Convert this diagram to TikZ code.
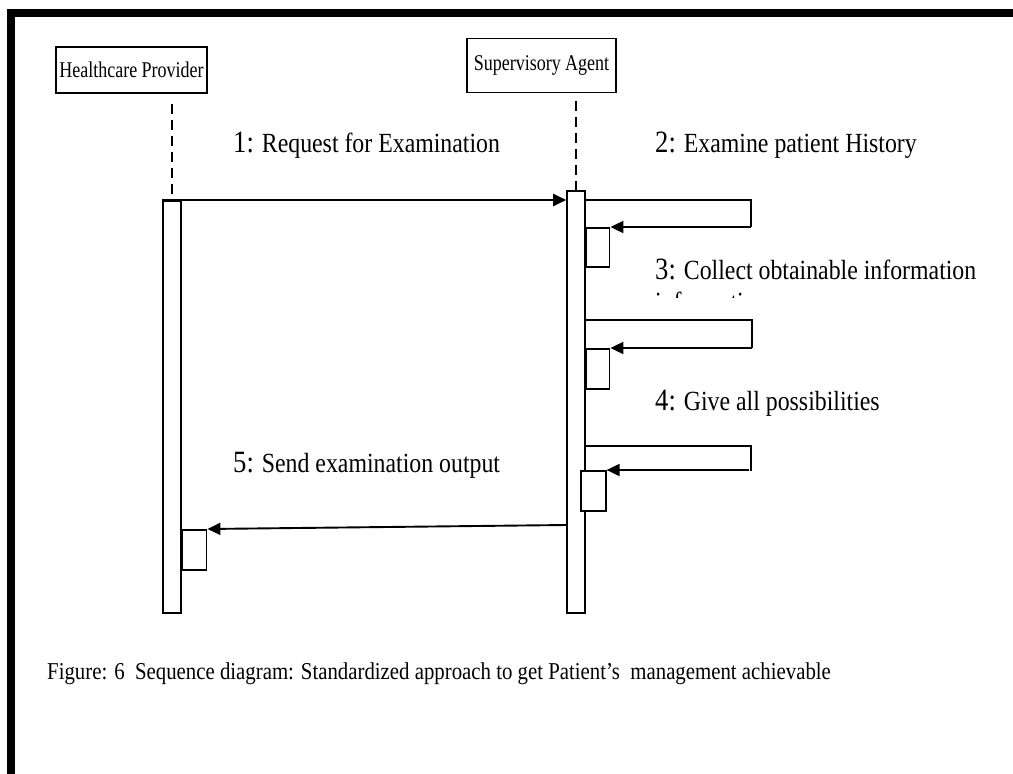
\documentclass[tikz,border=0pt]{standalone}
\usepackage{fontspec}
\setmainfont{Liberation Serif}
\newfontfamily\condserif[FakeStretch=0.86]{Liberation Serif}
\newfontfamily\headserif[FakeStretch=0.80]{Liberation Serif}
\usetikzlibrary{arrows.meta}

\newcommand\msgnum[1]{{\fontsize{31}{33}\selectfont #1}}

\tikzset{
  lifebox/.style={draw, line width=1.5pt, inner sep=0pt,
    font=\headserif\fontsize{22.5}{24}\selectfont},
  actbar/.style={draw, fill=white, line width=1.6pt, inner sep=0pt},
  lifeline/.style={line width=1.6pt, dash pattern=on 10pt off 6pt},
  selfline/.style={line width=1.9pt},
  msg/.style={line width=1.9pt, -{Triangle[length=13pt,width=12pt]}},
  msglabel/.style={anchor=base west, inner sep=0pt,
    font=\condserif\fontsize{27.7}{30}\selectfont},
  caption/.style={anchor=base west, inner sep=0pt,
    font=\condserif\fontsize{24.2}{26}\selectfont}
}

\begin{document}
\begin{tikzpicture}[x=1pt, y=-1pt]
  \useasboundingbox (0,0) rectangle (1013,774);

  % outer frame: heavy top and left rules
  \fill (7,9) rectangle (1013,17);
  \fill (7,9) rectangle (15,774);

  % lifeline heads
  \node[lifebox, minimum width=151pt, minimum height=46pt] (hp) at (131.5,70) {Healthcare Provider};
  \node[lifebox, minimum width=149pt, minimum height=54pt] (sa) at (541.5,65.5) {Supervisory Agent};

  % activation bars
  \node[actbar, minimum width=18pt, minimum height=412pt, anchor=north] (hpbar) at (172,200) {};
  \node[actbar, minimum width=18pt, minimum height=422pt, anchor=north] (sabar) at (576,190) {};

  % dashed lifelines, straight down from below each head
  \draw[lifeline] ([yshift=-10pt]hpbar.north |- hp.south) -- (hpbar.north);
  \draw[lifeline] ([yshift=-8pt]sabar.north |- sa.south) -- (sabar.north);

  % 1: request
  \draw[msg] (hpbar.north west) -- (sabar.west |- hpbar.north);
  \node[msglabel] (l1) at (233,152) {\msgnum{1:} Request for Examination};

  % 2: self message
  \node[actbar, minimum width=23pt, minimum height=39pt, anchor=north west] (b2) at (sabar.east |- 0,227) {};
  \draw[selfline] (sabar.east |- 0,200) -- (751,200) -- (751,227) coordinate (m2);
  \draw[msg] (m2) -- (b2.north east);
  \node[msglabel] (l2) at (655,152) {\msgnum{2:} Examine patient History};

  % 3: self message
  \node[actbar, minimum width=23pt, minimum height=40pt, anchor=north west] (b3) at (sabar.east |- 0,348) {};
  \draw[selfline] (sabar.east |- 0,320) -- (752,320) -- (752,348) coordinate (m3);
  \draw[msg] (m3) -- (b3.north east);
  \node[msglabel] (l3) at (655,279) {\msgnum{3:} Collect obtainable information};
  \begin{scope}
    \clip (640,289) rectangle (800,297);
    \node[msglabel] (l3b) at (655,311) {information};
  \end{scope}

  % 4: self message
  \node[actbar, minimum width=25pt, minimum height=40pt, anchor=north west] (b4) at (580,470) {};
  \draw[selfline] (sabar.east |- 0,446) -- (751,446) -- (751,471) coordinate (m4);
  \draw[msg] ([xshift=-2pt,yshift=1pt]m4) -- (b4.north east);
  \node[msglabel] (l4) at (655,410) {\msgnum{4:} Give all possibilities};

  % 5: reply
  \node[actbar, minimum width=24pt, minimum height=40pt, anchor=north west] (b5) at (hpbar.east |- 0,529) {};
  \draw[msg] (sabar.west |- 0,525) -- (b5.north east);
  \node[msglabel] (l5) at (233,472) {\msgnum{5:} Send examination output};

  % caption
  \node[caption] (cap) at (47,679) {Figure: 6\ \ Sequence diagram: Standardized approach to get Patient’s\ \ management achievable};
\end{tikzpicture}
\end{document}
